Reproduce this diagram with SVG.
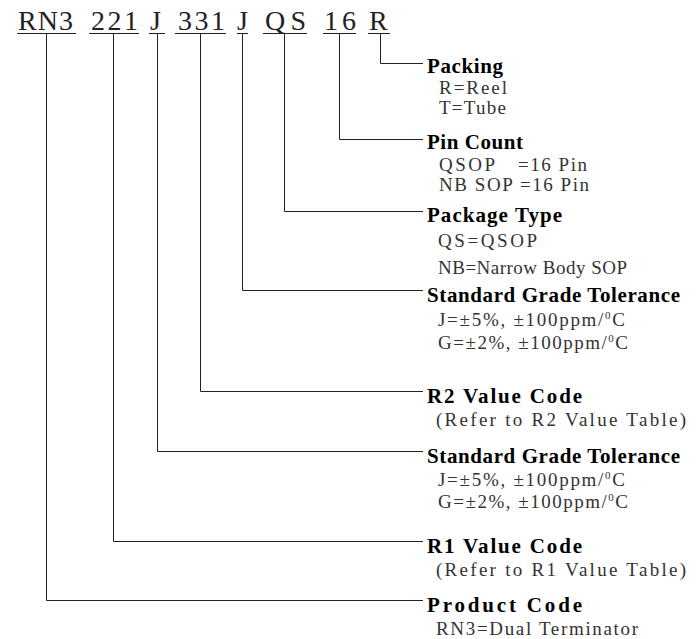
<svg xmlns="http://www.w3.org/2000/svg" width="697" height="639" viewBox="0 0 697 639">
<style>
.code{font-family:"Liberation Serif",serif;font-size:28px;fill:#222}
.h{font-family:"Liberation Serif",serif;font-size:21px;font-weight:bold;fill:#000}
.s{font-family:"Liberation Serif",serif;font-size:19px;fill:#333}
.sup{font-size:11px}
.ln{fill:none;stroke:#222;stroke-width:1}
</style>
<rect width="697" height="639" fill="#fff"/>
<g id="code">
<text class="code" x="18" y="30" textLength="55" lengthAdjust="spacing">RN3</text>
<text class="code" x="91" y="30" textLength="47" lengthAdjust="spacing">221</text>
<text class="code" x="150" y="30">J</text>
<text class="code" x="178" y="30" textLength="47" lengthAdjust="spacing">331</text>
<text class="code" x="237" y="30">J</text>
<text class="code" x="265" y="30" textLength="41" lengthAdjust="spacing">QS</text>
<text class="code" x="324" y="30" textLength="32" lengthAdjust="spacing">16</text>
<text class="code" x="369" y="30">R</text>
<path class="ln" d="M17 33.5H76M89 33.5H139M149 33.5H165M175 33.5H226M237 33.5H248M263 33.5H307M323 33.5H356M368 33.5H390"/>
</g>
<g id="connectors">
<path class="ln" d="M380.5 33V63.5H423"/>
<path class="ln" d="M339.5 33V139.5H423"/>
<path class="ln" d="M284.5 33V211.5H423"/>
<path class="ln" d="M242.5 33V290.5H423"/>
<path class="ln" d="M200.5 33V391.5H423"/>
<path class="ln" d="M157.5 33V451.5H423"/>
<path class="ln" d="M113.5 33V541.5H423"/>
<path class="ln" d="M46.5 33V600.5H423"/>
</g>
<g id="packing">
<text class="h" x="427" y="73" textLength="76" lengthAdjust="spacing">Packing</text>
<text class="s" x="439" y="94" textLength="68" lengthAdjust="spacing">R=Reel</text>
<text class="s" x="439" y="114" textLength="67" lengthAdjust="spacing">T=Tube</text>
</g>
<g id="pin-count">
<text class="h" x="427" y="149" textLength="96" lengthAdjust="spacing">Pin Count</text>
<text class="s" x="439" y="171" textLength="56" lengthAdjust="spacing">QSOP</text>
<text class="s" x="518" y="171" textLength="69" lengthAdjust="spacing">=16 Pin</text>
<text class="s" x="439" y="191" textLength="150" lengthAdjust="spacing">NB SOP =16 Pin</text>
</g>
<g id="package-type">
<text class="h" x="427" y="222" textLength="135" lengthAdjust="spacing">Package Type</text>
<text class="s" x="438" y="247" textLength="99" lengthAdjust="spacing">QS=QSOP</text>
<text class="s" x="438" y="274" textLength="189" lengthAdjust="spacing">NB=Narrow Body SOP</text>
</g>
<g id="tolerance-2">
<text class="h" x="427" y="302" textLength="253" lengthAdjust="spacing">Standard Grade Tolerance</text>
<text class="s" x="438" y="326" textLength="187" lengthAdjust="spacing">J=±5%, ±100ppm/<tspan class="sup" dy="-7">0</tspan><tspan dy="7">C</tspan></text>
<text class="s" x="438" y="349" textLength="190" lengthAdjust="spacing">G=±2%, ±100ppm/<tspan class="sup" dy="-7">0</tspan><tspan dy="7">C</tspan></text>
</g>
<g id="r2-value">
<text class="h" x="427" y="403" textLength="155" lengthAdjust="spacing">R2 Value Code</text>
<text class="s" x="436" y="426" textLength="250" lengthAdjust="spacing">(Refer to R2 Value Table)</text>
</g>
<g id="tolerance-1">
<text class="h" x="427" y="463" textLength="253" lengthAdjust="spacing">Standard Grade Tolerance</text>
<text class="s" x="438" y="486" textLength="187" lengthAdjust="spacing">J=±5%, ±100ppm/<tspan class="sup" dy="-7">0</tspan><tspan dy="7">C</tspan></text>
<text class="s" x="438" y="508" textLength="190" lengthAdjust="spacing">G=±2%, ±100ppm/<tspan class="sup" dy="-7">0</tspan><tspan dy="7">C</tspan></text>
</g>
<g id="r1-value">
<text class="h" x="427" y="553" textLength="155" lengthAdjust="spacing">R1 Value Code</text>
<text class="s" x="436" y="576" textLength="250" lengthAdjust="spacing">(Refer to R1 Value Table)</text>
</g>
<g id="product-code">
<text class="h" x="427" y="612" textLength="155" lengthAdjust="spacing">Product Code</text>
<text class="s" x="436" y="635" textLength="202" lengthAdjust="spacing">RN3=Dual Terminator</text>
</g>
</svg>
